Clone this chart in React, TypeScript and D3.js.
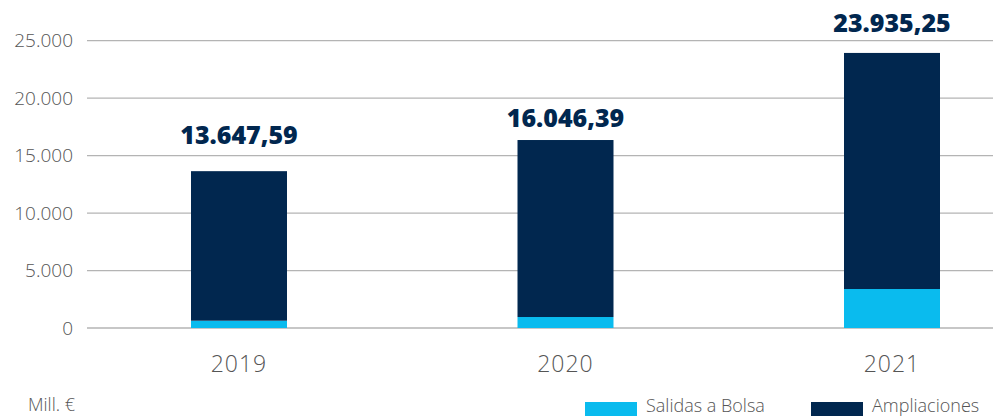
import React from "react";
import * as d3 from "d3";

const years = ["2019", "2020", "2021"];
const salidas = [635, 957, 3393];
const ampliaciones = [13012, 15400, 20542];
const totalLabels = ["13.647,59", "16.046,39", "23.935,25"];
const yTicks = [0, 5000, 10000, 15000, 20000, 25000];
const seriesNames = ["Salidas a Bolsa", "Ampliaciones"];
const unitLabel = "Mill. €";

const W = 993;
const H = 418;
const NAVY = "#01274f";
const CYAN = "#0abbee";
const GRAY = "#555";
const FONT = "'Open Sans', Lato, sans-serif";
const LABEL_GAP = [27, 13, 21];

export default function App() {
  const y = d3.scaleLinear().domain([0, 25000]).range([328, 40.7]);
  const x = d3
    .scaleBand<string>()
    .domain(years)
    .range([75.75, 1055.25])
    .paddingInner(0.706)
    .paddingOuter(0.353);
  const fmt = (v: number) => (v === 0 ? "0" : d3.format(",")(v).replace(/,/g, "."));

  const stacked = d3
    .stack<any>()
    .keys(["s", "a"])(years.map((yr, i) => ({ yr, s: salidas[i], a: ampliaciones[i] })));
  const colors = [CYAN, NAVY];

  return (
    <svg
      width={W}
      height={H}
      style={{ position: "absolute", left: 0, top: 0, background: "#fff" }}
      fontFamily={FONT}
    >
      {yTicks.map((t) => (
        <g key={t}>
          <line x1={87} x2={W} y1={y(t)} y2={y(t)} stroke="#b4b4b4" strokeWidth={1.3} />
          <text
            x={73}
            y={y(t)}
            dy="0.35em"
            textAnchor="end"
            fontSize={19}
            fontWeight={300}
            fill={GRAY}
          >
            {fmt(t)}
          </text>
        </g>
      ))}
      {stacked.map((layer, li) =>
        layer.map((d, i) => (
          <rect
            key={`${li}-${i}`}
            x={x(years[i])}
            width={x.bandwidth()}
            y={y(d[1])}
            height={y(d[0]) - y(d[1])}
            fill={colors[li]}
          />
        ))
      )}
      {years.map((yr, i) => {
        const top = stacked[1][i][1];
        return (
          <g key={yr}>
            <text
              x={(x(yr) as number) + x.bandwidth() / 2}
              y={y(top) - LABEL_GAP[i]}
              textAnchor="middle"
              fontSize={25}
              fontWeight={800}
              fill={NAVY}
            >
              {totalLabels[i]}
            </text>
            <text
              x={(x(yr) as number) + x.bandwidth() / 2}
              y={372}
              textAnchor="middle"
              fontSize={23}
              fontWeight={300}
              fill={GRAY}
              letterSpacing={1}
            >
              {yr}
            </text>
          </g>
        );
      })}
      <text x={28} y={411} fontSize={18} fontWeight={300} fill={GRAY}>
        {unitLabel}
      </text>
      {seriesNames.map((n, i) => {
        const lx = [585, 811][i];
        return (
          <g key={n}>
            <rect x={lx} y={402} width={52} height={14} fill={colors[i]} />
            <text x={lx + 61} y={412} fontSize={18} fontWeight={300} fill={GRAY}>
              {n}
            </text>
          </g>
        );
      })}
    </svg>
  );
}
